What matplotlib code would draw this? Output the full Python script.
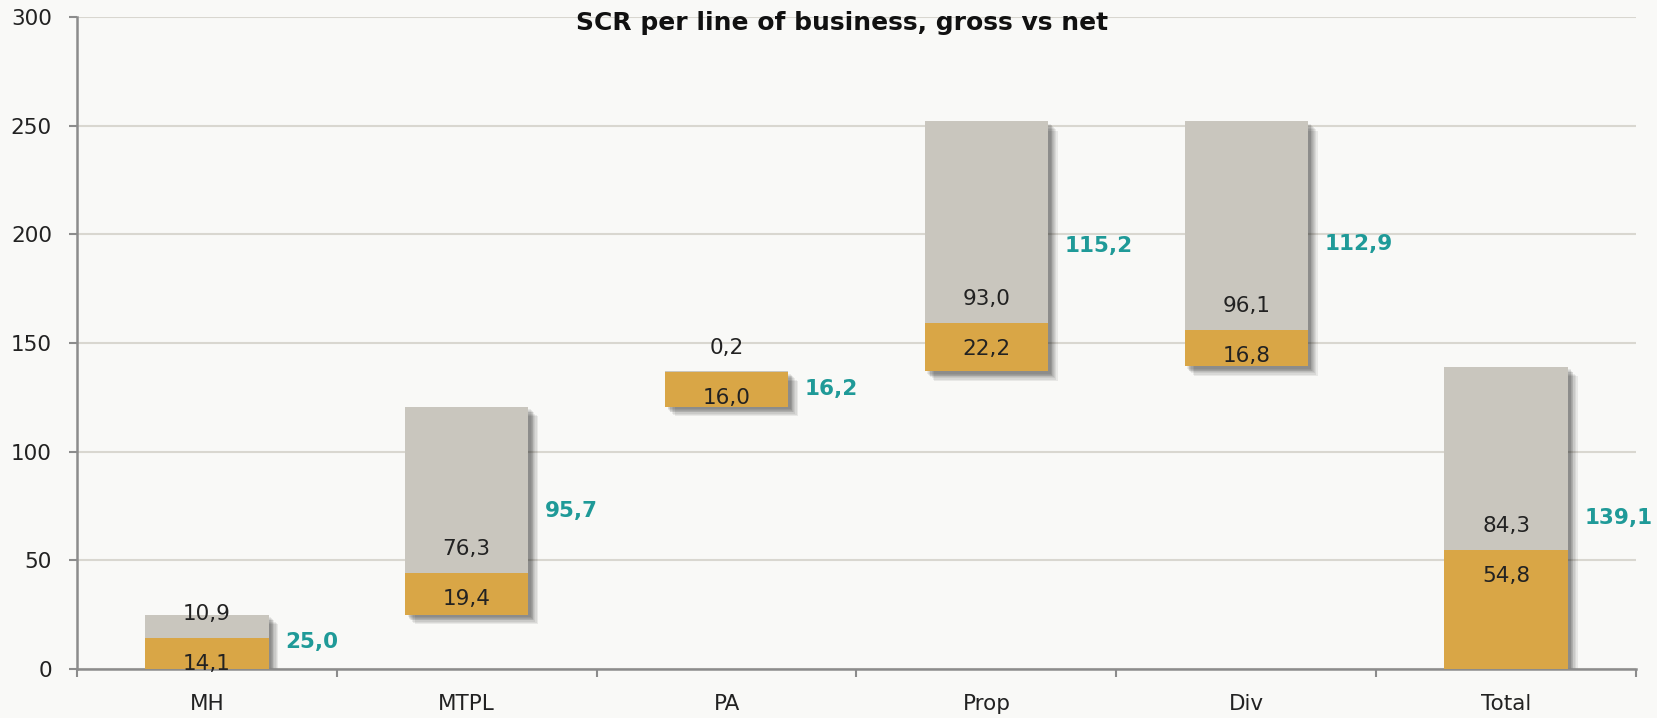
import matplotlib
matplotlib.use("Agg")
import matplotlib.pyplot as plt
import matplotlib.patheffects as pe
import numpy as np

categories = ["MH", "MTPL", "PA", "Prop", "Div", "Total"]
net_values = [14.1, 19.4, 16.0, 22.2, 16.8, 54.8]
gross_minus_net = [10.9, 76.3, 0.2, 93.0, 96.1, 84.3]
gross_totals = [25.0, 95.7, 16.2, 115.2, 112.9, 139.1]
step_kind = ["up", "up", "up", "up", "down", "total"]
title = "SCR per line of business, gross vs net"
y_ticks = [0, 50, 100, 150, 200, 250, 300]

C_NET = "#D9A646"
C_GROSS = "#C9C6BE"
C_TEAL = "#1F9A98"
C_BG = "#F9F9F7"
C_GRID = "#D9D7D0"
C_SPINE = "#8C8C8C"
FS = 15.5

def fmt(v):
    return f"{v:.1f}".replace(".", ",")

# waterfall bases
bases = []
running = 0.0
for g, k in zip(gross_totals, step_kind):
    if k == "up":
        bases.append(running)
        running += g
    elif k == "down":
        running -= g
        bases.append(running)
    else:
        bases.append(0.0)

fig = plt.figure(figsize=(16.57, 7.18), dpi=100, facecolor=C_BG)
ax = fig.add_axes([77/1657, 1-669/718, (1636-77)/1657, (669-17)/718])
ax.set_facecolor(C_BG)

x = np.arange(len(categories))
w = 0.475
tops = [b + n + d for b, n, d in zip(bases, net_values, gross_minus_net)]
heights = [t - b for t, b in zip(tops, bases)]

# shadow carrier bars (soft drop shadow)
shadow_fx = [pe.SimplePatchShadow(offset=(o, -o), shadow_rgbFace="black", alpha=0.065)
             for o in (7, 6, 5, 4, 3.5, 3, 2.5, 2)]
ax.bar(x, heights, w, bottom=bases, color=C_GROSS, zorder=2,
       path_effects=shadow_fx + [pe.Normal()])
ax.bar(x, net_values, w, bottom=bases, color=C_NET, zorder=3)
net_tops = [b + n for b, n in zip(bases, net_values)]
ax.bar(x, gross_minus_net, w, bottom=net_tops, color=C_GROSS, zorder=3)

for i in range(len(categories)):
    ax.text(x[i], net_tops[i] - 12, fmt(net_values[i]), ha="center", va="center",
            fontsize=FS, color="#222222", zorder=5)
    ax.text(x[i], net_tops[i] + 11, fmt(gross_minus_net[i]), ha="center", va="center",
            fontsize=FS, color="#222222", zorder=5)
    mid = bases[i] + heights[i] / 2
    ax.annotate(fmt(gross_totals[i]), xy=(x[i] + w / 2, mid), xytext=(12, 0),
                textcoords="offset points", ha="left", va="center",
                fontsize=FS, fontweight="bold", color=C_TEAL, zorder=5)

ax.set_xlim(-0.5, len(categories) - 0.5)
ax.set_ylim(0, 300)
ax.set_yticks(y_ticks)
ax.set_yticklabels([str(t) for t in y_ticks])
ax.set_xticks(x)
ax.set_xticklabels(categories)
ax.set_xticks(np.arange(-0.5, len(categories)), minor=True)
ax.tick_params(axis="x", which="major", length=0, pad=18, labelsize=FS, labelcolor="#222222")
ax.tick_params(axis="x", which="minor", length=6, width=1.5, color=C_SPINE)
ax.tick_params(axis="y", which="major", length=6, width=1.5, color=C_SPINE, pad=12,
               labelsize=FS, labelcolor="#222222")
ax.grid(axis="y", color=C_GRID, linewidth=1.5, zorder=0)
ax.set_axisbelow(True)
for s in ["top", "right"]:
    ax.spines[s].set_visible(False)
for s in ["left", "bottom"]:
    ax.spines[s].set_color(C_SPINE)
    ax.spines[s].set_linewidth(1.8)

fig.text(842/1657, 1 - 30/718, title, ha="center", va="baseline", fontsize=18,
         fontweight="bold", color="#111111")

fig.savefig("out.png", dpi=100, facecolor=C_BG)
